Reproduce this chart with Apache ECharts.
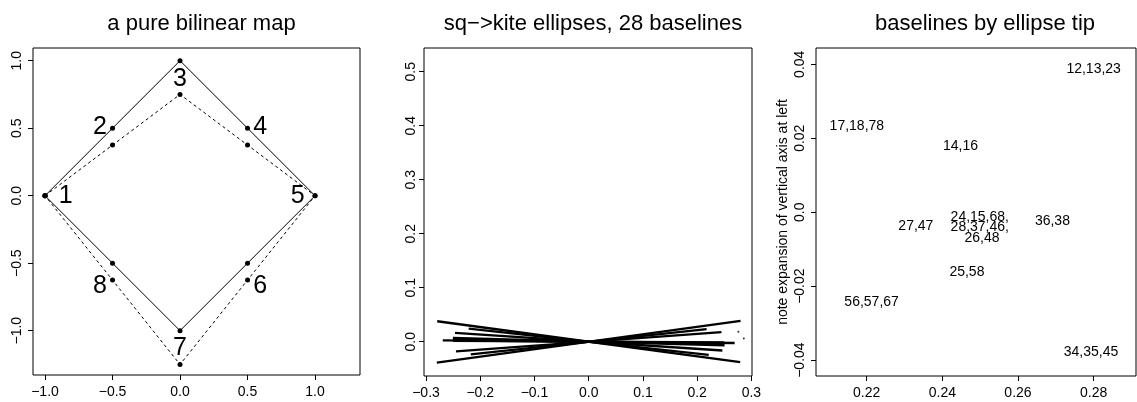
<!DOCTYPE html>
<html>
<head>
<meta charset="utf-8">
<script src="https://cdn.jsdelivr.net/npm/echarts@6/dist/echarts.min.js"></script>
<style>
  html, body { margin: 0; padding: 0; background: #fff; }
  #chart { width: 1137px; height: 402px; }
</style>
</head>
<body>
<div id="chart"></div>
<script>
// ---- panel 1: square (solid) and its bilinear image (dashed), vertices 1..8
const squareX = [-1, -0.5, 0, 0.5, 1, 0.5, 0, -0.5, -1];
const squareY = [0, 0.5, 1, 0.5, 0, -0.5, -1, -0.5, 0];
const kiteX = [-1, -0.5, 0, 0.5, 1, 0.5, 0, -0.5, -1];
const kiteY = [0, 0.375, 0.75, 0.375, 0, -0.625, -1.25, -0.625, 0];
const vertexNames = ['1', '2', '3', '4', '5', '6', '7', '8'];
const vertexNameX = [-0.847, -0.593, 0, 0.593, 0.872, 0.593, 0, -0.593];
const vertexNameY = [0, 0.51, 0.861, 0.51, 0, -0.667, -1.13, -0.667];

// ---- panels 2 and 3: ellipse tips, one per group of baselines
const tipGroups = ['12,13,23', '17,18,78', '14,16', '24,15,68,', '28,37,46,', '26,48',
                   '27,47', '36,38', '25,58', '56,57,67', '34,35,45'];
const tipX = [0.2800, 0.2174, 0.2448, 0.2499, 0.2499, 0.2505, 0.2330, 0.2691, 0.2465, 0.2213, 0.2793];
const tipY = [0.0386, 0.0234, 0.0179, -0.0014, -0.0041, -0.0069, -0.0037, -0.0024, -0.0163, -0.0244, -0.0379];
const strayX = [0.276, 0.286];
const strayY = [0.0185, 0.006];

// ---- tick values
const p1Ticks = [-1, -0.5, 0, 0.5, 1];
const p2XTicks = [-0.3, -0.2, -0.1, 0, 0.1, 0.2, 0.3];
const p2YTicks = [0, 0.1, 0.2, 0.3, 0.4, 0.5];
const p3XTicks = [0.22, 0.24, 0.26, 0.28];
const p3YTicks = [-0.04, -0.02, 0, 0.02, 0.04];

const FONT = "'Liberation Sans', Arial, Helvetica, sans-serif";
const minus = s => s.replace('-', '\u2212');
const fmt1 = v => minus(Number(v).toFixed(1));
const fmt2 = v => (Math.abs(v) < 1e-9 ? '0.0' : minus(Number(v).toFixed(2)));

function axis(gridIndex, min, max, ticks, fmt, isY, margin) {
  return {
    type: 'value', gridIndex, min, max,
    axisLine: { show: false, onZero: false },
    splitLine: { show: false },
    axisTick: { show: true, inside: false, length: 5, customValues: ticks,
                lineStyle: { color: '#000', width: 1 } },
    axisLabel: {
      show: true, customValues: ticks, formatter: fmt, margin,
      rotate: isY ? 90 : 0, color: '#000', fontSize: 14, fontFamily: FONT,
      showMinLabel: true, showMaxLabel: true
    }
  };
}

const zip = (xs, ys) => xs.map((x, i) => [x, ys[i]]);

// text placed centred on a data point
function textSeries(xi, names, xs, ys, size) {
  return {
    type: 'scatter', xAxisIndex: xi, yAxisIndex: xi,
    data: names.map((n, i) => ({ value: [xs[i], ys[i]], name: n })),
    symbol: 'circle', symbolSize: 0, itemStyle: { color: '#000', opacity: 1 },
    label: { show: true, position: 'inside', formatter: p => p.name,
             color: '#000', opacity: 1, textBorderWidth: 0,
             fontSize: size, fontFamily: FONT },
    animation: false, silent: true
  };
}

const series = [];
// panel 1
series.push({
  type: 'line', xAxisIndex: 0, yAxisIndex: 0, data: zip(squareX, squareY),
  symbol: 'circle', symbolSize: 5, showAllSymbol: true,
  lineStyle: { color: '#000', width: 1 }, itemStyle: { color: '#000' },
  animation: false, silent: true
});
series.push({
  type: 'line', xAxisIndex: 0, yAxisIndex: 0, data: zip(kiteX, kiteY),
  symbol: 'circle', symbolSize: 5, showAllSymbol: true,
  lineStyle: { color: '#000', width: 1, type: [3, 3] }, itemStyle: { color: '#000' },
  animation: false, silent: true
});
series.push(textSeries(0, vertexNames, vertexNameX, vertexNameY, 25));
// panel 2: each thin ellipse drawn along its major axis, tip to opposite tip
tipX.forEach((x, i) => {
  series.push({
    type: 'line', xAxisIndex: 1, yAxisIndex: 1,
    data: [[-x, -tipY[i]], [x, tipY[i]]],
    symbol: 'none', lineStyle: { color: '#000', width: 2.3 },
    animation: false, silent: true
  });
});
series.push({
  type: 'scatter', xAxisIndex: 1, yAxisIndex: 1, data: zip(strayX, strayY),
  symbol: 'circle', symbolSize: 2, itemStyle: { color: '#000' },
  animation: false, silent: true
});
// panel 3: group labels at the tips
series.push(textSeries(2, tipGroups, tipX, tipY, 14));

const gridBase = { show: true, borderColor: '#000', borderWidth: 1, backgroundColor: 'transparent',
                   containLabel: false };
const titleStyle = { color: '#000', fontSize: 22, fontWeight: 'normal', fontFamily: FONT };

const yAxis3 = axis(2, -0.0443, 0.0444, p3YTicks, fmt2, true, 9);
Object.assign(yAxis3, {
  name: 'note expansion of vertical axis at left', nameLocation: 'middle', nameGap: 26,
  nameRotate: 90, nameTextStyle: { color: '#000', fontSize: 14, fontFamily: FONT }
});

const option = {
  animation: false,
  backgroundColor: '#fff',
  title: [
    { text: 'a pure bilinear map', left: 196.5, top: 8, textAlign: 'center', textStyle: titleStyle },
    { text: 'sq\u2212>kite ellipses, 28 baselines', left: 588, top: 8, textAlign: 'center', textStyle: titleStyle },
    { text: 'baselines by ellipse tip', left: 980, top: 8, textAlign: 'center', textStyle: titleStyle }
  ],
  grid: [
    Object.assign({ left: 33, top: 48, width: 327, height: 327 }, gridBase),
    Object.assign({ left: 424, top: 48, width: 328, height: 328 }, gridBase),
    Object.assign({ left: 816, top: 48, width: 320, height: 328 }, gridBase)
  ],
  xAxis: [
    axis(0, -1.089, 1.333, p1Ticks, fmt1, false, 10),
    axis(1, -0.3037, 0.3011, p2XTicks, fmt1, false, 10),
    axis(2, 0.2066, 0.2912, p3XTicks, fmt2, false, 10)
  ],
  yAxis: [
    axis(0, -1.328, 1.094, p1Ticks, fmt1, true, 9),
    axis(1, -0.0635, 0.5439, p2YTicks, fmt1, true, 6),
    yAxis3
  ],
  series
};

const chart = echarts.init(document.getElementById('chart'), null, { renderer: 'canvas' });
chart.setOption(option);
</script>
</body>
</html>
